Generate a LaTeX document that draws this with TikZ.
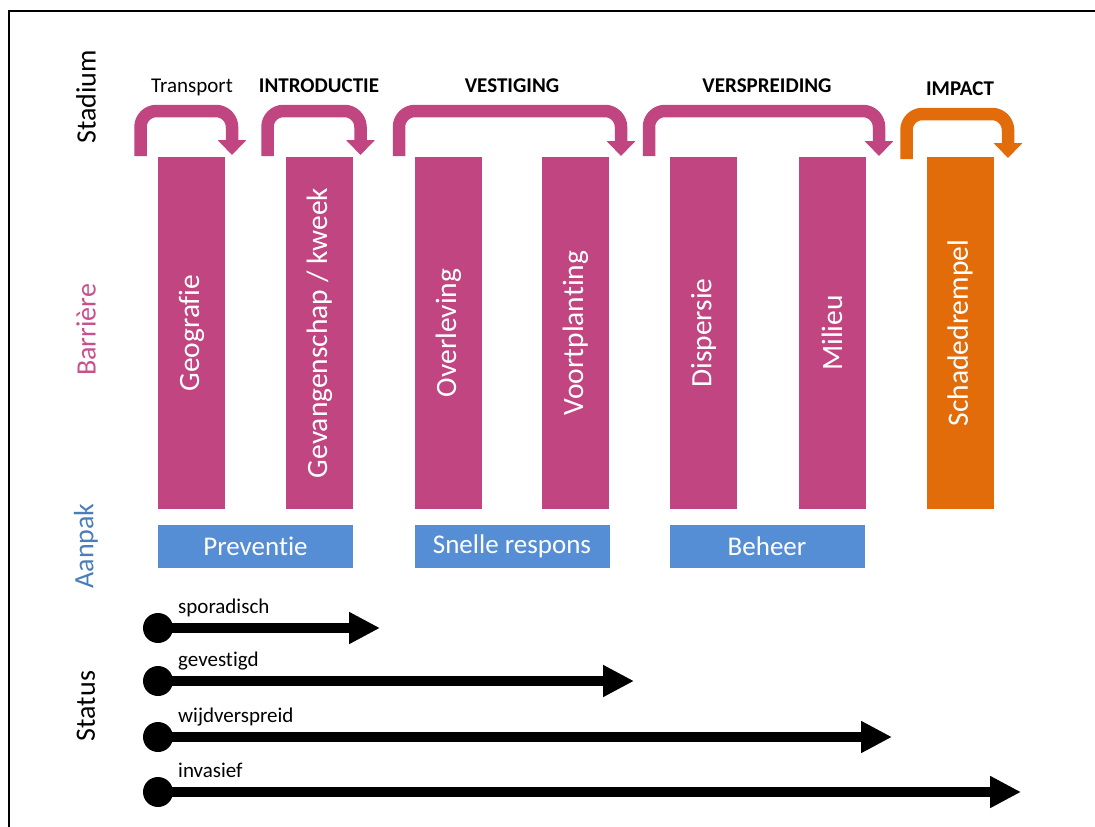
\documentclass[tikz,border=0pt]{standalone}
\usepackage{fontspec}
\setmainfont[Ligatures=NoCommon]{Carlito}
\usepackage{tikz}
\usetikzlibrary{arrows.meta, positioning}
\definecolor{barpink}{RGB}{192,69,128}
\definecolor{impactorange}{RGB}{227,108,10}
\definecolor{aanpakblue}{RGB}{85,142,213}
\definecolor{labelblue}{RGB}{74,126,187}
\definecolor{labelpink}{RGB}{200,80,140}
\tikzset{
  stage/.style={draw=barpink, line width=12.5pt, rounded corners=16pt, -{Triangle[length=15pt, width=28pt]}},
  header/.style={anchor=base, font=\fontsize{21}{24}\selectfont},
  bar/.style={fill=barpink, rotate=90, minimum width=352pt, minimum height=67pt, inner sep=0pt, text=white, font=\fontsize{29.5}{32}\selectfont},
  aanpak/.style={fill=aanpakblue, minimum width=195pt, minimum height=43pt, inner sep=0pt, text=white, font=\fontsize{27}{30}\selectfont},
  rowlabel/.style={rotate=90, font=\fontsize{28}{30}\selectfont},
  status/.style={line width=10pt, -{Triangle[length=31pt, width=30pt]}},
  statuslabel/.style={anchor=base west, inner sep=0pt, font=\fontsize{21}{24}\selectfont}
}
\begin{document}
\begin{tikzpicture}[x=1pt, y=-1pt]
  \useasboundingbox (0,0) rectangle (1095,827);
  % frame
  \draw[line width=2pt] (9,827) -- (9,11) -- (1095,11);

  % row labels
  \node[rowlabel] (lstadium) at (86,97) {Stadium};
  \node[rowlabel, text=labelpink] (lbarriere) at (86,330) {Barrière};
  \node[rowlabel, text=labelblue] (laanpak) at (86,546) {Aanpak};
  \node[rowlabel] (lstatus) at (86,706) {Status};

  % stages
  \node[header] (transport) at (192,92) {Transport};
  \node[header, font=\fontsize{21}{24}\selectfont\bfseries] (introductie) at (319,92) {INTRODUCTIE};
  \node[header, font=\fontsize{21}{24}\selectfont\bfseries] (vestiging) at (512,92) {VESTIGING};
  \node[header, font=\fontsize{21}{24}\selectfont\bfseries] (verspreiding) at (767,92) {VERSPREIDING};
  \node[header, font=\fontsize{21}{24}\selectfont\bfseries] (impact) at (960,95) {IMPACT};

  \draw[stage] (140.5,156) -- (140.5,111) -- (232,111) -- (232,155);
  \draw[stage] (267.5,156) -- (267.5,111) -- (360.5,111) -- (360.5,155);
  \draw[stage] (399,156) -- (399,111) -- (621,111) -- (621,156);
  \draw[stage] (649,156) -- (649,111) -- (879,111) -- (879,156);
  \draw[stage, draw=impactorange] (906.5,159) -- (906.5,114) -- (1008,114) -- (1008,158);

  % barriers
  \node[bar] (geografie) at (191.5,333) {Geografie};
  \node[bar] (gevangenschap) at (319.5,333) {Gevangenschap / kweek};
  \node[bar] (overleving) at (448.5,333) {Overleving};
  \node[bar] (voortplanting) at (575.5,333) {Voortplanting};
  \node[bar] (dispersie) at (703.5,333) {Dispersie};
  \node[bar] (milieu) at (832,333) {Milieu};
  \node[bar, fill=impactorange] (schade) at (960,333) {Schadedrempel};

  % aanpak
  \node[aanpak] (preventie) at (255.5,546.5) {Preventie};
  \node[aanpak] (respons) at (512,546.5) {Snelle respons};
  \node[aanpak] (beheer) at (767,546.5) {Beheer};

  % status
  \foreach \y/\x/\name/\txt in {628/380/spor/sporadisch, 681/634/gev/gevestigd, 737/892/wijd/wijdverspreid, 792/1021/inv/invasief}{
    \coordinate (\name s) at (158,\y);
    \coordinate (\name e) at (\x,\y);
    \fill (\name s) circle (15pt);
    \draw[status] (\name s) -- (\name e);
    \node[statuslabel] (\name l) at (178,\y-15) {\txt};
  }
\end{tikzpicture}
\end{document}
